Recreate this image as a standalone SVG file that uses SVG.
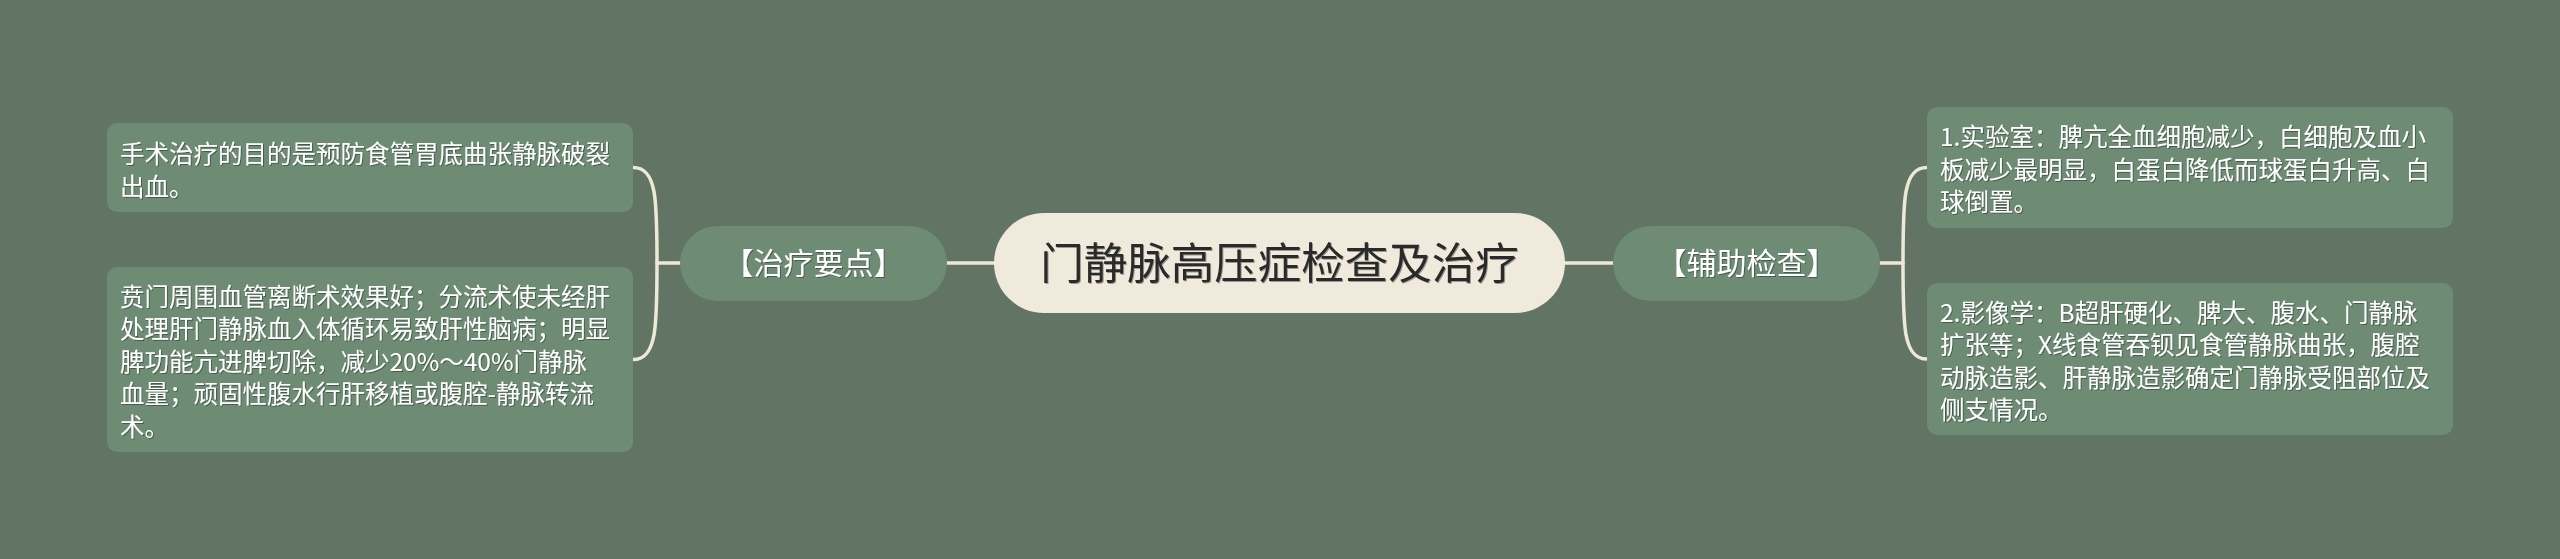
<svg xmlns="http://www.w3.org/2000/svg" width="2560" height="559" viewBox="0 0 2560 559">
<defs>
<style>
.bg{fill:#627463}
.leaf{fill:#6E8B74}
.branch{fill:#6E8B74}
.root{fill:#EFEADB}
.conn{fill:none;stroke:#EDE9D7;stroke-width:3.5;stroke-linecap:round}
.t{font-family:"Microsoft YaHei","Noto Sans CJK SC","Noto Sans",sans-serif;fill:#FFFFFF}
.leaft{font-size:24.5px}
.brt{font-size:30px;text-anchor:middle}
.roott{font-family:"Microsoft YaHei","Noto Sans CJK SC","Noto Sans",sans-serif;font-size:43.5px;fill:#2A2A2A;text-anchor:middle}
</style>
<filter id="sh" x="-5%" y="-20%" width="110%" height="140%">
<feDropShadow dx="1" dy="1" stdDeviation="0.6" flood-color="#000" flood-opacity="0.35"/>
</filter>
</defs>
<rect class="bg" x="0" y="0" width="2560" height="559"/>

<g id="connectors">
<path class="conn" d="M947 263 L994 263"/>
<path class="conn" d="M1565 263 L1613 263"/>
<path class="conn" d="M680 263 L657 263"/>
<path class="conn" d="M633 167.5 C657 167.5 657 200 657 263 C657 326 657 359.5 633 359.5"/>
<path class="conn" d="M1880 263 L1903 263"/>
<path class="conn" d="M1927 167.5 C1903 167.5 1903 200 1903 263 C1903 326 1903 359 1927 359"/>
</g>

<g id="root">
<rect class="root" x="994" y="213" width="571" height="100" rx="50" ry="50"/>
<text class="roott" x="1279.5" y="278.5" filter="url(#sh)">门静脉高压症检查及治疗</text>
</g>

<g id="branch-left">
<rect class="branch" x="680" y="226" width="267" height="75" rx="37.5" ry="37.5"/>
<text class="t brt" x="813.5" y="274" filter="url(#sh)">【治疗要点】</text>
</g>

<g id="branch-right">
<rect class="branch" x="1613" y="226" width="267" height="75" rx="37.5" ry="37.5"/>
<text class="t brt" x="1746.5" y="274" filter="url(#sh)">【辅助检查】</text>
</g>

<g id="leaf-left-1">
<rect class="leaf" x="107" y="123" width="526" height="89" rx="10" ry="10"/>
<text class="t leaft" filter="url(#sh)"><tspan x="120" y="163">手术治疗的目的是预防食管胃底曲张静脉破裂</tspan><tspan x="120" y="195.5">出血。</tspan></text>
</g>

<g id="leaf-left-2">
<rect class="leaf" x="107" y="267" width="526" height="185" rx="10" ry="10"/>
<text class="t leaft" filter="url(#sh)"><tspan x="120" y="305.5">贲门周围血管离断术效果好；分流术使未经肝</tspan><tspan x="120" y="338">处理肝门静脉血入体循环易致肝性脑病；明显</tspan><tspan x="120" y="370.5">脾功能亢进脾切除，减少20%～40%门静脉</tspan><tspan x="120" y="403">血量；顽固性腹水行肝移植或腹腔-静脉转流</tspan><tspan x="120" y="435.5">术。</tspan></text>
</g>

<g id="leaf-right-1">
<rect class="leaf" x="1927" y="107" width="526" height="121" rx="10" ry="10"/>
<text class="t leaft" filter="url(#sh)"><tspan x="1940" y="146">1.实验室：脾亢全血细胞减少，白细胞及血小</tspan><tspan x="1940" y="178.5">板减少最明显，白蛋白降低而球蛋白升高、白</tspan><tspan x="1940" y="211">球倒置。</tspan></text>
</g>

<g id="leaf-right-2">
<rect class="leaf" x="1927" y="283" width="526" height="152" rx="10" ry="10"/>
<text class="t leaft" filter="url(#sh)"><tspan x="1940" y="321.5">2.影像学：B超肝硬化、脾大、腹水、门静脉</tspan><tspan x="1940" y="354">扩张等；X线食管吞钡见食管静脉曲张，腹腔</tspan><tspan x="1940" y="386.5">动脉造影、肝静脉造影确定门静脉受阻部位及</tspan><tspan x="1940" y="419">侧支情况。</tspan></text>
</g>
</svg>
